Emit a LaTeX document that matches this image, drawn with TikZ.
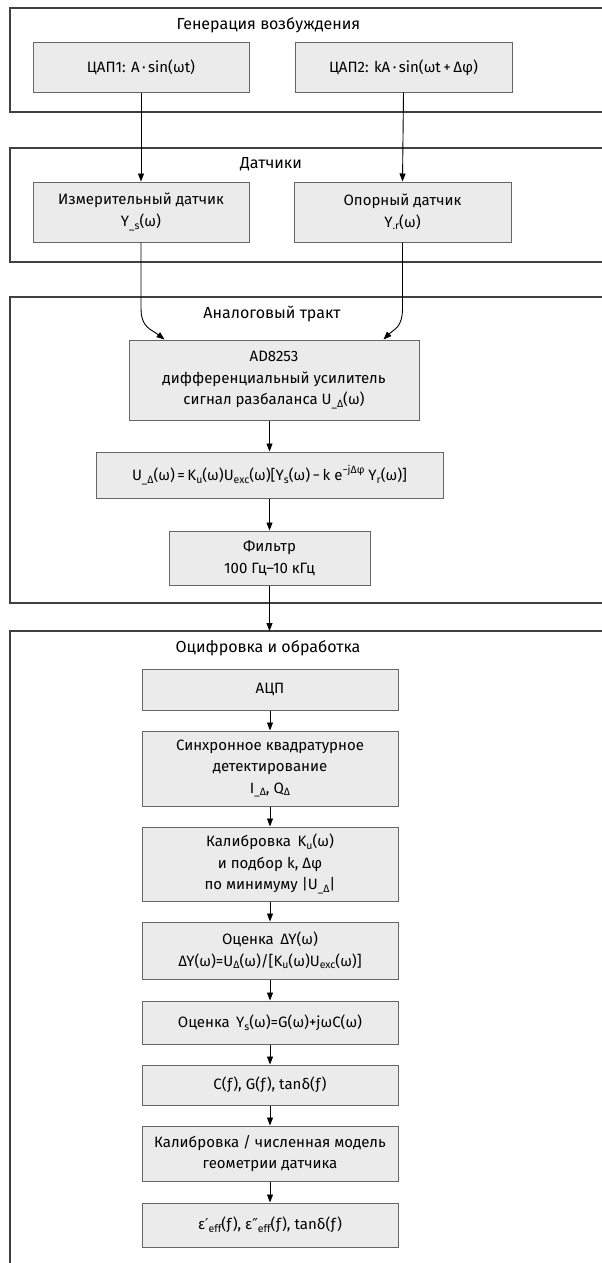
\documentclass[tikz,border=0pt]{standalone}
\usepackage{fontspec}
\setmainfont{Fira Sans}
\newfontfamily\dvs{DejaVu Sans}
\usetikzlibrary{arrows.meta,calc}
\newcommand\lo[1]{\raisebox{-0.35ex}{\fontsize{10.5}{10.5}\selectfont #1}}
\newcommand\hi[1]{\raisebox{0.9ex}{\fontsize{10.5}{10.5}\selectfont #1}}
\begin{document}
\begin{tikzpicture}[x=1pt,y=-1pt,
  frame/.style={draw=black!75, line width=1.3pt, fill=white},
  blk/.style={draw=black!60, line width=1pt, fill=black!8, align=center, inner sep=0pt, font=\fontsize{15}{21.5}\selectfont},
  ttl/.style={font=\fontsize{16}{18}\selectfont, inner sep=0pt},
  arr/.style={-{Triangle[length=8pt,width=6pt]}, line width=0.9pt, draw=black}]
\clip (0,0) rectangle (602,1263);
\fill[white] (0,0) rectangle (602,1263);
% frames
\draw[frame] (10,8) rectangle (640,112);
\draw[frame] (10,148) rectangle (640,262);
\draw[frame] (10,297) rectangle (640,603);
\draw[frame] (10,631) rectangle (640,1300);
\coordinate (f4top) at (269.5,631);
% titles
\node[ttl] (t1) at (268.5,25) {Генерация возбуждения};
\node[ttl] (t2) at (271,164) {Датчики};
\node[ttl] (t3) at (272,314) {Аналоговый тракт};
\node[ttl] (t4) at (268,648) {Оцифровка и обработка};
% section 1
\node[blk, minimum width=216pt, minimum height=49pt] (dac1) at (141,67.5) {ЦАП1: A\,·\,sin(ωt)};
\node[blk, minimum width=217pt, minimum height=49pt] (dac2) at (403.5,67.5) {ЦАП2: kA\,·\,sin(ωt\,+\,Δφ)};
% section 2
\node[blk, minimum width=216pt, minimum height=60pt] (s1) at (141,212) {Измерительный датчик\\Y\lo{\_s}(ω)};
\node[blk, minimum width=217pt, minimum height=60pt] (s2) at (402.5,212) {Опорный датчик\\Y\lo{.r}(ω)};
% section 3
\node[blk, minimum width=290pt, minimum height=80pt] (amp) at (274,380) {AD8253\\дифференциальный усилитель\\сигнал разбаланса U\lo{\_Δ}(ω)};
\node[blk, minimum width=347pt, minimum height=46pt] (form) at (269.5,475) {U\lo{\_Δ}(ω)\,=\,K\lo{u}(ω)U\lo{exc}(ω)[Y\lo{s}(ω)\,−\,k e\hi{−jΔφ} Y\lo{r}(ω)]};
\node[blk, minimum width=201pt, minimum height=54pt] (filt) at (269.5,558) {Фильтр\\100 Гц–10 кГц};
% section 4
\node[blk, minimum width=256pt, minimum height=41pt] (adc) at (270,689.5) {АЦП};
\node[blk, minimum width=256pt, minimum height=75pt] (sync) at (270,768.5) {Синхронное квадратурное\\детектирование\\I\lo{\_Δ}, Q\lo{Δ}};
\node[blk, minimum width=256pt, minimum height=74pt] (cal) at (270,864) {Калибровка\, K\lo{u}(ω)\\и подбор k, Δφ\\по минимуму |U\lo{\_Δ}|};
\node[blk, minimum width=256pt, minimum height=57pt] (dy) at (270,950.5) {Оценка\, ΔY(ω)\\ΔY(ω)=U\lo{Δ}(ω)/[K\lo{u}(ω)U\lo{exc}(ω)]};
\node[blk, minimum width=256pt, minimum height=43pt] (ys) at (270,1022.5) {Оценка\, Y\lo{s}(ω)=G(ω)+jωC(ω)};
\node[blk, minimum width=256pt, minimum height=40pt] (cf) at (270,1085) {C(ƒ), G(ƒ), tanδ(ƒ)};
\node[blk, minimum width=256pt, minimum height=55pt] (model) at (270,1153.5) {Калибровка / численная модель\\геометрии датчика};
\node[blk, minimum width=256pt, minimum height=44pt] (eps) at (270,1225) {ε{\dvs ′}\lo{eff}(ƒ), ε{\dvs ″}\lo{eff}(ƒ), tanδ(ƒ)};
% arrows
\draw[arr] (dac1.south) -- (s1.north);
\draw[arr] (dac2.south) -- (s2.north);
\coordinate (inL) at ($(amp.north west)+(36,0)$);
\coordinate (inR) at ($(amp.north east)+(-36,0)$);
\draw[arr] (s1.south) -- (141,308) .. controls (141,328) and (151,329) .. (inL);
\draw[arr] (s2.south) -- (402.5,308) .. controls (402.5,328) and (394,329) .. (inR);
\draw[arr] (form.north |- amp.south) -- (form.north);
\draw[arr] (form.south) -- (filt.north);
\draw[arr] (filt.south) -- (f4top);
\draw[arr] (adc) -- (sync);
\draw[arr] (sync) -- (cal);
\draw[arr] (cal) -- (dy);
\draw[arr] (dy) -- (ys);
\draw[arr] (ys) -- (cf);
\draw[arr] (cf) -- (model);
\draw[arr] (model) -- (eps);
\end{tikzpicture}
\end{document}
